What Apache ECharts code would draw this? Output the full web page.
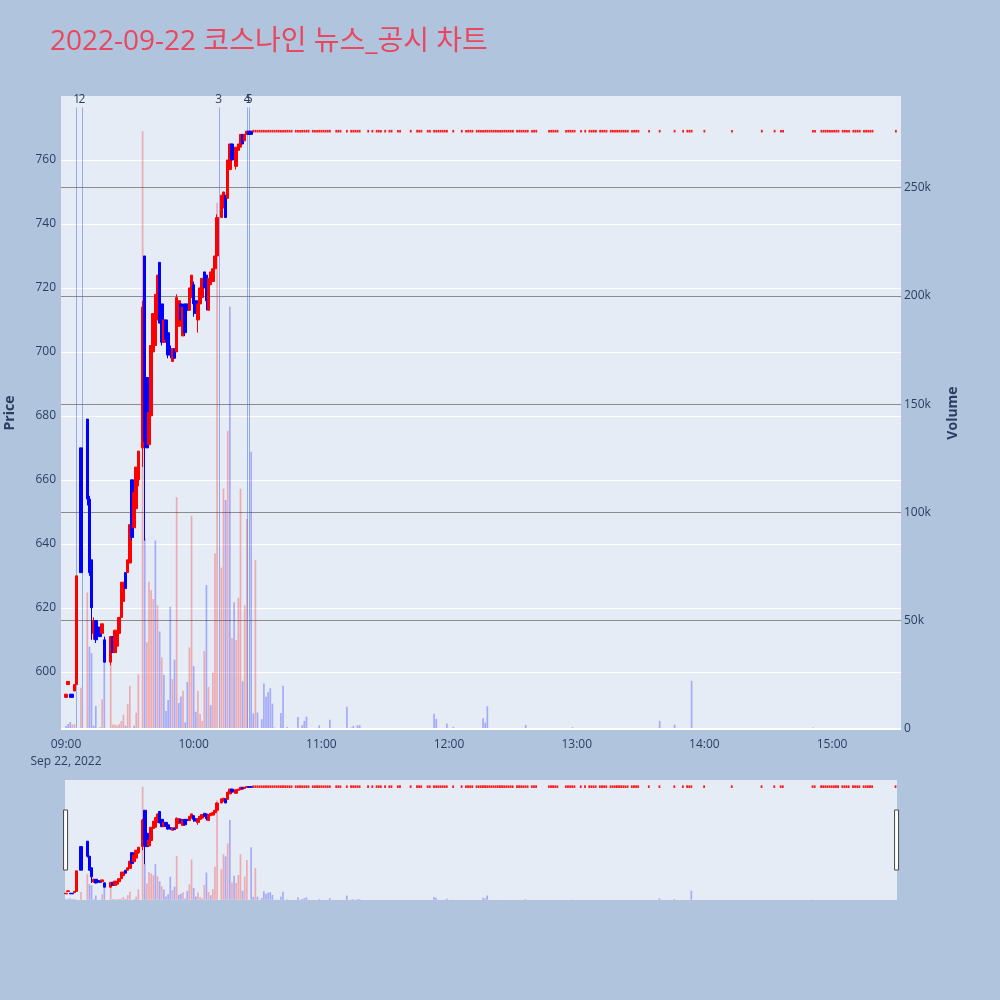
<!DOCTYPE html>
<html><head><meta charset="utf-8">
<script src="https://cdn.jsdelivr.net/npm/echarts@6/dist/echarts.min.js"></script>
<style>html,body{margin:0;padding:0;background:#B0C4DE;}#c{width:1000px;height:1000px;}</style>
</head><body><div id="c"></div>
<script>
// ---- data (minutes after 09:00, 2022-09-22) ----
const candleMinute = [0,1,2,3,4,5,7,10,11,12,13,14,15,16,17,18,21,22,23,24,25,26,27,28,29,30,31,32,33,34,36,37,38,39,40,41,42,43,44,45,46,47,48,49,50,51,52,53,54,55,56,57,58,59,60,61,62,63,64,65,66,67,68,69,70,71,73,74,75,76,77,78,80,81,82,83,84,85,86,87];
const candleOpen  = [592,596,593,593,594,596,670,679,654,635,612,616,614,612,612,610,603,611,606,608,612,617,622,631,631,634,660,645,651,660,670,730,692,671,680,700,702,710,728,715,703,710,706,701,697,701,700,708,715,705,715,715,713,717,721,716,710,715,717,725,724,713,721,722,726,730,742,745,749,748,757,765,758,763,764,768,766,768,769,769];
const candleClose = [593,597,592,592,596,630,631,654,631,620,616,610,612,611,615,603,611,606,613,612,617,628,628,626,635,646,642,656,664,669,714,672,670,681,702,712,718,724,709,703,710,704,699,699,701,698,717,716,710,714,706,713,720,724,715,712,715,720,723,720,716,723,725,726,730,742,749,750,742,760,765,760,764,765,768,765,768,769,768,768];
const candleLow   = [592,596,592,592,594,596,631,652,630,610,610,609,612,611,612,603,602,606,606,606,612,617,622,626,631,634,641,645,651,658,664,641,670,671,680,700,702,710,709,702,703,703,698,698,697,698,700,708,710,705,705,713,713,717,711,712,706,712,717,720,713,713,721,722,726,730,742,745,742,748,757,760,757,763,764,765,766,768,768,768];
const candleHigh  = [593,597,593,593,596,630,670,679,655,635,617,616,614,612,615,611,611,611,613,612,617,628,628,631,635,646,660,656,664,669,716,730,692,681,702,712,718,724,728,715,710,710,706,702,701,701,718,716,715,714,715,715,720,724,722,716,715,720,723,725,724,723,725,726,730,743,749,750,749,760,765,765,764,765,768,768,768,769,769,769];

// upper-limit price and the minutes that traded flat at it (open = high = low = close)
const limitPrice = 769;
const limitMinutes = [88,89,90,91,92,93,94,95,96,97,98,99,100,101,102,103,104,105,106,
  108,109,110,111,112,113,114,116,117,118,119,120,121,122,123,124,127,128,129,132,
  134,135,136,137,138,142,144,146,147,148,150,152,153,156,157,162,165,166,167,170,171,
  173,174,175,176,177,178,179,182,186,188,189,190,191,
  193,194,195,196,197,198,199,200,201,202,203,204,205,206,207,208,209,210,
  212,213,214,215,216,217,219,220,221,227,228,229,230,231,235,236,237,238,239,
  242,244,246,247,248,249,251,252,253,254,256,257,258,259,260,261,262,263,264,
  266,267,268,269,274,279,286,290,292,293,294,300,313,327,333,336,337,351,352,
  355,356,357,358,359,360,361,362,363,365,366,367,368,370,371,372,373,375,376,377,378,379,390];

const volumeMinute = [0,1,2,3,4,7,10,11,12,13,14,16,17,18,21,22,23,24,25,26,27,28,29,30,32,33,34,
  36,37,38,39,40,41,42,43,44,45,46,47,48,49,50,51,52,53,54,55,56,57,58,59,60,61,62,63,64,65,66,67,68,69,70,71,
  73,74,75,76,77,78,79,80,81,82,83,84,85,87,88,89,90,92,93,94,95,96,97,98,99,100,101,102,104,
  109,110,111,112,113,119,124,127,129,132,134,135,137,138,142,144,148,157,167,173,174,175,177,179,182,
  188,190,191,194,196,197,198,199,202,203,206,216,220,238,274,279,286,290,294,300,313,327,351];
const volumeValue = [1400,2300,3200,2000,2200,19000,63000,38000,35000,1500,10600,800,13700,31400,29800,2000,2000,1500,2200,3600,6600,1500,11400,19900,1500,7500,25200,
  276000,88000,40000,68000,64000,60000,87000,57000,45000,33000,25000,8300,13300,56400,23000,32000,107000,12000,15000,17600,3000,21700,37600,98400,29000,7900,17600,6900,3700,36000,66500,19400,11000,26000,81000,243000,
  74500,111000,105700,137700,195000,42000,58500,41000,60600,110900,22000,57000,97000,128000,7200,78000,7600,4500,21000,14800,17000,18800,11700,600,300,300,7400,19900,900,
  5500,300,1700,3700,5700,1700,4200,300,300,10200,600,1400,1700,1700,300,300,300,300,300,7000,4600,300,300,2500,1000,
  300,300,300,300,4900,2900,10500,300,300,300,300,1800,300,800,300,3700,2000,300,22200,300,300,300,600];
// 1 = rising (red), -1 = falling (blue)
const volumeDir = [-1,-1,-1,1,1,1,1,-1,-1,-1,-1,-1,1,-1,1,1,1,1,1,1,1,-1,1,1,-1,1,1,
  1,-1,1,1,1,1,-1,1,-1,1,-1,-1,-1,-1,1,-1,1,-1,-1,1,-1,-1,1,1,-1,-1,1,1,1,1,-1,1,-1,1,1,1,
  1,1,-1,1,-1,1,-1,1,1,1,-1,1,1,-1,-1,1,-1,-1,-1,-1,-1,-1,-1,-1,-1,-1,-1,-1,-1,
  -1,-1,-1,-1,-1,-1,-1,-1,-1,-1,-1,-1,-1,-1,-1,-1,-1,-1,-1,-1,-1,-1,-1,-1,-1,
  -1,-1,-1,-1,-1,-1,-1,-1,-1,-1,-1,-1,-1,-1,-1,-1,-1,-1,-1,-1,-1,-1,-1];

const newsMinute = [5.0, 7.5, 71.8, 85.2, 86.1];
const newsLabel  = ['1','2','3','4','5'];

const timeTicks   = [0,60,120,180,240,300,360];
const priceTicks  = [600,620,640,660,680,700,720,740,760];
const volumeTicks = [0,50000,100000,150000,200000,250000];

// ---- chart ----
const FONT = "'Open Sans', 'Noto Sans CJK KR', sans-serif";
const TXT = '#2a3f5f';
const UP = '#FF0000', DOWN = '#0000FF';
const VOL_UP = 'rgba(255,0,0,0.28)', VOL_DOWN = 'rgba(0,0,255,0.28)';
const NEWS_COLOR = 'rgba(65,105,225,0.5)';
const PRICE_MIN = 581.8, PRICE_MAX = 780;
const VOL_MIN = -500, VOL_MAX = 292300;
const NEWS_TOP = 287000;

const movingCandles = candleMinute.map((m, i) => [m, candleOpen[i], candleClose[i], candleLow[i], candleHigh[i]]);
const limitTicks = limitMinutes.map(m => [m, limitPrice]);
const volumes = volumeMinute.map((m, i) => ({
  value: [m, volumeValue[i]],
  itemStyle: { color: volumeDir[i] > 0 ? VOL_UP : VOL_DOWN }
}));

function fmtTime(v) {
  const h = 9 + Math.floor(v / 60), mm = v % 60;
  const s = (h < 10 ? '0' : '') + h + ':' + (mm < 10 ? '0' : '') + mm;
  return v === 0 ? s + '\nSep 22, 2022' : s;
}

const candleStyle = { color: UP, color0: DOWN, borderColor: UP, borderColor0: DOWN, borderWidth: 1 };

const newsLines = newsMinute.map((m, i) => [
  { coord: [m, VOL_MIN], name: newsLabel[i], lineStyle: { color: NEWS_COLOR, width: 1, type: 'solid' } },
  { coord: [m, NEWS_TOP] }
]);

function seriesFor(xi, yp, yv, withMarks) {
  const bar = { type: 'bar', xAxisIndex: xi, yAxisIndex: yv, data: volumes, barWidth: 1.7, z: 1 };
  if (withMarks) {
    bar.markLine = {
      silent: true, symbol: ['none', 'none'], z: 2, animation: false,
      lineStyle: { color: NEWS_COLOR, width: 1, type: 'solid' },
      label: { show: true, position: 'end', distance: 2, formatter: '{b}', color: TXT, fontSize: 12, fontFamily: FONT },
      data: newsLines.concat([{ yAxis: 0, name: '', lineStyle: { color: '#FFFFFF', width: 2, type: 'solid' }, label: { show: false } }])
    };
  }
  return [
    bar,
    { type: 'candlestick', xAxisIndex: xi, yAxisIndex: yp, data: movingCandles,
      encode: { x: 0, y: [1, 2, 3, 4] }, barWidth: 3, itemStyle: candleStyle, z: 3 },
    { type: 'scatter', xAxisIndex: xi, yAxisIndex: yp, data: limitTicks,
      symbol: 'rect', symbolSize: [1.8, 2.6], itemStyle: { color: UP, opacity: 0.9 }, z: 3, silent: true }
  ];
}

const chart = echarts.init(document.getElementById('c'), null, { renderer: 'canvas' });
chart.setOption({
  animation: false,
  backgroundColor: '#B0C4DE',
  textStyle: { fontFamily: FONT },
  title: {
    text: '2022-09-22 코스나인 뉴스_공시 차트',
    left: 50, top: 28, padding: 0,
    textStyle: { color: '#E9475E', fontSize: 28, fontWeight: 'normal', fontFamily: FONT }
  },
  grid: [
    { left: 61, right: 99, top: 96, height: 634, show: true, backgroundColor: '#E5ECF6', borderWidth: 0, containLabel: false, outerBoundsMode: 'none' },
    { left: 65, right: 103, top: 780, height: 120, show: true, backgroundColor: '#E5ECF6', borderWidth: 0, containLabel: false, outerBoundsMode: 'none' }
  ],
  xAxis: [
    { type: 'value', gridIndex: 0, min: -2.35, max: 392.4,
      axisLine: { show: false }, axisTick: { show: false }, splitLine: { show: false },
      axisLabel: { customValues: timeTicks, formatter: fmtTime, color: TXT, fontSize: 12, margin: 6, lineHeight: 17, fontFamily: FONT } },
    { type: 'value', gridIndex: 1, min: -0.5, max: 390.7, show: false, splitLine: { show: false } }
  ],
  yAxis: [
    { type: 'value', gridIndex: 0, position: 'left', min: PRICE_MIN, max: PRICE_MAX,
      name: 'Price', nameLocation: 'middle', nameGap: 44,
      nameTextStyle: { color: TXT, fontSize: 14, fontWeight: 'bold', fontFamily: FONT },
      axisLine: { show: false }, axisTick: { show: false, customValues: priceTicks },
      axisLabel: { customValues: priceTicks, color: TXT, fontSize: 12, margin: 5, fontFamily: FONT },
      splitLine: { show: true, lineStyle: { color: '#FFFFFF', width: 1 } } },
    { type: 'value', gridIndex: 0, position: 'right', min: VOL_MIN, max: VOL_MAX,
      name: 'Volume', nameLocation: 'middle', nameGap: 45, nameRotate: 90,
      nameTextStyle: { color: TXT, fontSize: 14, fontWeight: 'bold', fontFamily: FONT },
      axisLine: { show: false }, axisTick: { show: false, customValues: volumeTicks },
      axisLabel: { customValues: volumeTicks, color: TXT, fontSize: 12, margin: 3, fontFamily: FONT,
        formatter: v => v === 0 ? '0' : (v / 1000) + 'k' },
      splitLine: { show: true, lineStyle: { color: '#8c8c8c', width: 1 } } },
    { type: 'value', gridIndex: 1, min: PRICE_MIN, max: PRICE_MAX, show: false, splitLine: { show: false } },
    { type: 'value', gridIndex: 1, min: VOL_MIN, max: VOL_MAX, show: false, splitLine: { show: false } }
  ],
  dataZoom: [{
    type: 'slider', xAxisIndex: 1, filterMode: 'none', start: 0, end: 100,
    left: 64, right: 103, top: 780, height: 120,
    backgroundColor: 'rgba(0,0,0,0)', fillerColor: 'rgba(0,0,0,0)', borderColor: 'rgba(0,0,0,0)',
    showDataShadow: false, showDetail: false, brushSelect: false, moveHandleSize: 0,
    dataBackground: { lineStyle: { opacity: 0 }, areaStyle: { opacity: 0 } },
    selectedDataBackground: { lineStyle: { opacity: 0 }, areaStyle: { opacity: 0 } },
    handleIcon: 'path://M0,0L4,0L4,60L0,60Z', handleSize: '50%',
    handleStyle: { color: '#FFFFFF', borderColor: '#444444', borderWidth: 1 },
    emphasis: { handleStyle: { color: '#FFFFFF', borderColor: '#444444', borderWidth: 1 } }
  }],
  series: seriesFor(0, 0, 1, true).concat(seriesFor(1, 2, 3, false))
});
</script></body></html>
